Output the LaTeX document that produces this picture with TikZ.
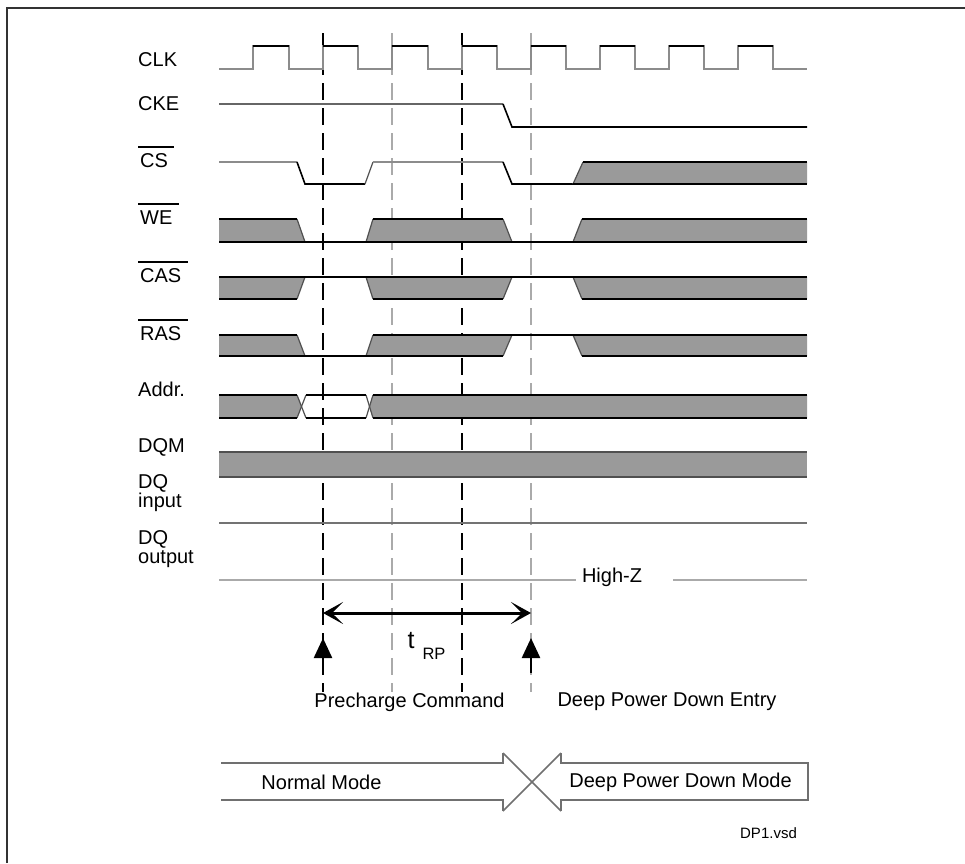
\documentclass[tikz,border=0pt]{standalone}
\usepackage{fontspec}
\setmainfont{Liberation Sans}
\usetikzlibrary{arrows.meta}
\definecolor{bandgray}{HTML}{9A9A9A}
\definecolor{siggray}{HTML}{8C8C8C}
\definecolor{lightgray2}{HTML}{AAAAAA}
\definecolor{edgegray}{HTML}{505050}
\definecolor{bargray}{HTML}{707070}
\begin{document}
\begin{tikzpicture}[x=1pt,y=-1pt,
  lbl/.style={font=\fontsize{20}{24}\selectfont, anchor=base west, inner sep=0pt},
  txt/.style={font=\fontsize{20}{24}\selectfont, inner sep=0pt},
  sig/.style={line width=1.6pt, draw=black},
  gsig/.style={line width=2.4pt, draw=siggray},
  band/.style={fill=bandgray},
  slant/.style={line width=1.2pt, draw=edgegray},
  bdash/.style={line width=1.6pt, draw=black, dash pattern=on 17pt off 8pt},
  gdash/.style={line width=2.6pt, draw=lightgray2, dash pattern=on 17pt off 8pt},
  ovl/.style={line width=1.4pt, draw=black},
  barline/.style={line width=2pt, draw=bargray},
  upar/.style={line width=2.4pt, -{Triangle[length=20pt,width=18pt]}},
  dimar/.style={line width=3pt, {Stealth[length=20pt,width=22pt,inset=11pt]}-{Stealth[length=20pt,width=22pt,inset=11pt]}}
]
\useasboundingbox (0,0) rectangle (965,863);
\fill[white] (0,0) rectangle (965,863);
% frame
\draw[line width=2pt, draw=black!80] (7,863) -- (7,8) -- (965,8);

% dashed time markers
\draw[bdash] (323,33) -- (323,692);
\draw[bdash] (462,33) -- (462,692);
\draw[gdash] (392,33) -- (392,692);
\draw[gdash] (531,33) -- (531,692);

% labels
\node[lbl] (lclk) at (138,66) {CLK};
\node[lbl] (lcke) at (138,110) {CKE};
\node[lbl] (lcs) at (140,167) {CS};
\draw[ovl] ([xshift=-2pt,yshift=6pt]lcs.north west) -- ([xshift=6pt,yshift=6pt]lcs.north east);
\node[lbl] (lwe) at (140,224) {WE};
\draw[ovl] ([xshift=-2pt,yshift=6pt]lwe.north west) -- ([xshift=6pt,yshift=6pt]lwe.north east);
\node[lbl] (lcas) at (140,282) {CAS};
\draw[ovl] ([xshift=-2pt,yshift=6pt]lcas.north west) -- ([xshift=6pt,yshift=6pt]lcas.north east);
\node[lbl] (lras) at (140,340) {RAS};
\draw[ovl] ([xshift=-2pt,yshift=6pt]lras.north west) -- ([xshift=6pt,yshift=6pt]lras.north east);
\node[lbl] (laddr) at (138,396) {Addr.};
\node[lbl] (ldqm) at (138,452) {DQM};
\node[lbl] (ldqi) at (138,488) {DQ};
\node[lbl] (ldqi2) at (138,507) {input};
\node[lbl] (ldqo) at (138,544) {DQ};
\node[lbl] (ldqo2) at (138,563) {output};

% CLK
\draw[gsig] (219,69) -- (253,69) -- (253,46) -- (289,46) -- (289,69) -- (323,69) -- (323,46) -- (358,46) -- (358,69) -- (392,69) -- (392,46) -- (428,46) -- (428,69) -- (462,69) -- (462,46) -- (497,46) -- (497,69) -- (531,69) -- (531,46) -- (566,46) -- (566,69) -- (600,69) -- (600,46) -- (635,46) -- (635,69) -- (669,69) -- (669,46) -- (704,46) -- (704,69) -- (738,69) -- (738,46) -- (773,46) -- (773,69) -- (807,69);
\foreach \a/\b in {253/289,323/358,392/428,462/497,531/566,600/635,669/704,738/773}
  \draw[sig] (\a,46) -- (\b,46);

% CKE
\draw[gsig, line width=2pt, draw=black!60] (219,104) -- (503,104);
\draw[sig] (503,104) -- (512,127) -- (807,127);

% CS
\draw[gsig] (219,162) -- (297,162);
\draw[sig] (297,162) -- (305,184) -- (365,184);
\draw[slant] (365,184) -- (373,162);
\draw[gsig] (373,162) -- (503,162);
\draw[sig] (503,162) -- (512,184) -- (573,184);
\fill[band] (573,184) -- (583,162) -- (807,162) -- (807,184) -- cycle;
\draw[slant] (573,184) -- (583,162);
\draw[sig] (583,162) -- (807,162);
\draw[sig] (573,184) -- (807,184);

% WE
\fill[band] (219,219) -- (297,219) -- (305,242) -- (219,242) -- cycle;
\fill[band] (366,242) -- (373,219) -- (503,219) -- (512,242) -- cycle;
\fill[band] (573,242) -- (582,219) -- (807,219) -- (807,242) -- cycle;
\draw[slant] (297,219) -- (305,242);
\draw[slant] (366,242) -- (373,219);
\draw[slant] (503,219) -- (512,242);
\draw[slant] (573,242) -- (582,219);
\draw[sig] (219,219) -- (297,219);
\draw[sig] (373,219) -- (503,219);
\draw[sig] (582,219) -- (807,219);
\draw[sig] (219,242) -- (807,242);

% CAS
\fill[band] (219,277) -- (305,277) -- (297,299) -- (219,299) -- cycle;
\fill[band] (366,277) -- (512,277) -- (503,299) -- (373,299) -- cycle;
\fill[band] (573,277) -- (807,277) -- (807,299) -- (582,299) -- cycle;
\draw[slant] (305,277) -- (297,299);
\draw[slant] (366,277) -- (373,299);
\draw[slant] (512,277) -- (503,299);
\draw[slant] (573,277) -- (582,299);
\draw[sig] (219,277) -- (807,277);
\draw[sig] (219,299) -- (297,299);
\draw[sig] (373,299) -- (503,299);
\draw[sig] (582,299) -- (807,299);

% RAS
\fill[band] (219,335) -- (297,335) -- (305,356) -- (219,356) -- cycle;
\fill[band] (366,356) -- (373,335) -- (512,335) -- (503,356) -- cycle;
\fill[band] (573,335) -- (807,335) -- (807,356) -- (582,356) -- cycle;
\draw[slant] (297,335) -- (305,356);
\draw[slant] (366,356) -- (373,335);
\draw[slant] (512,335) -- (503,356);
\draw[slant] (573,335) -- (582,356);
\draw[sig] (219,335) -- (297,335);
\draw[sig] (373,335) -- (807,335);
\draw[sig] (219,356) -- (503,356);
\draw[sig] (582,356) -- (807,356);

% Addr
\fill[band] (219,395) -- (297,395) -- (301.5,406.5) -- (297,418) -- (219,418) -- cycle;
\fill[band] (373,395) -- (807,395) -- (807,418) -- (373,418) -- (369.5,406.5) -- cycle;
\draw[slant] (297,395) -- (306,418);
\draw[slant] (297,418) -- (306,395);
\draw[slant] (366,395) -- (373,418);
\draw[slant] (366,418) -- (373,395);
\draw[sig] (219,395) -- (297,395);
\draw[sig] (306,395) -- (366,395);
\draw[sig] (373,395) -- (807,395);
\draw[sig] (219,418) -- (297,418);
\draw[sig] (306,418) -- (366,418);
\draw[sig] (373,418) -- (807,418);

% DQM
\fill[band] (219,452) rectangle (807,477);
\draw[line width=2pt, draw=edgegray] (219,452) -- (807,452);
\draw[line width=2pt, draw=edgegray] (219,477) -- (807,477);

% DQ input / output
\draw[line width=2pt, draw=black!55] (219,523) -- (807,523);
\node[txt] (hz) at (612,577) {High-Z};
\draw[line width=2.5pt, draw=lightgray2] (219,580) -- (576,580);
\draw[line width=2.5pt, draw=lightgray2] (673,580) -- (807,580);

% tRP
\coordinate (pa) at (323,613);
\coordinate (pb) at (531,613);
\draw[dimar] (pa) -- (pb);
\node[inner sep=0pt, font=\fontsize{25}{28}\selectfont] (tt) at (411,641) {t};
\node[inner sep=0pt, font=\fontsize{16.5}{18}\selectfont] (trp) at (434,654) {RP};

% event arrows
\coordinate (a1s) at (323,673);
\coordinate (a1e) at (323,638);
\coordinate (a2s) at (531,673);
\coordinate (a2e) at (531,638);
\draw[upar] (a1s) -- (a1e);
\draw[upar] (a2s) -- (a2e);
\node[txt] (pc) at (409.5,702) {Precharge Command};
\node[txt] (dpe) at (667,702) {Deep Power Down Entry};

% mode bar
\draw[barline] (221,763) -- (503,763) -- (503,753);
\draw[barline] (221,800) -- (503,800) -- (503,811);
\draw[barline, line width=1.5pt] (503,753) -- (561,811);
\draw[barline, line width=1.5pt] (503,811) -- (561,753);
\draw[barline] (561,753) -- (561,763) -- (808,763) -- (808,800) -- (561,800) -- (561,811);
\node[txt] (nm) at (321.5,782) {Normal Mode};
\node[txt] (dpm) at (680.5,782) {Deep Power Down Mode};
\node[inner sep=0pt, font=\fontsize{15}{17}\selectfont] (dp1) at (768.5,833) {DP1.vsd};
\end{tikzpicture}
\end{document}
